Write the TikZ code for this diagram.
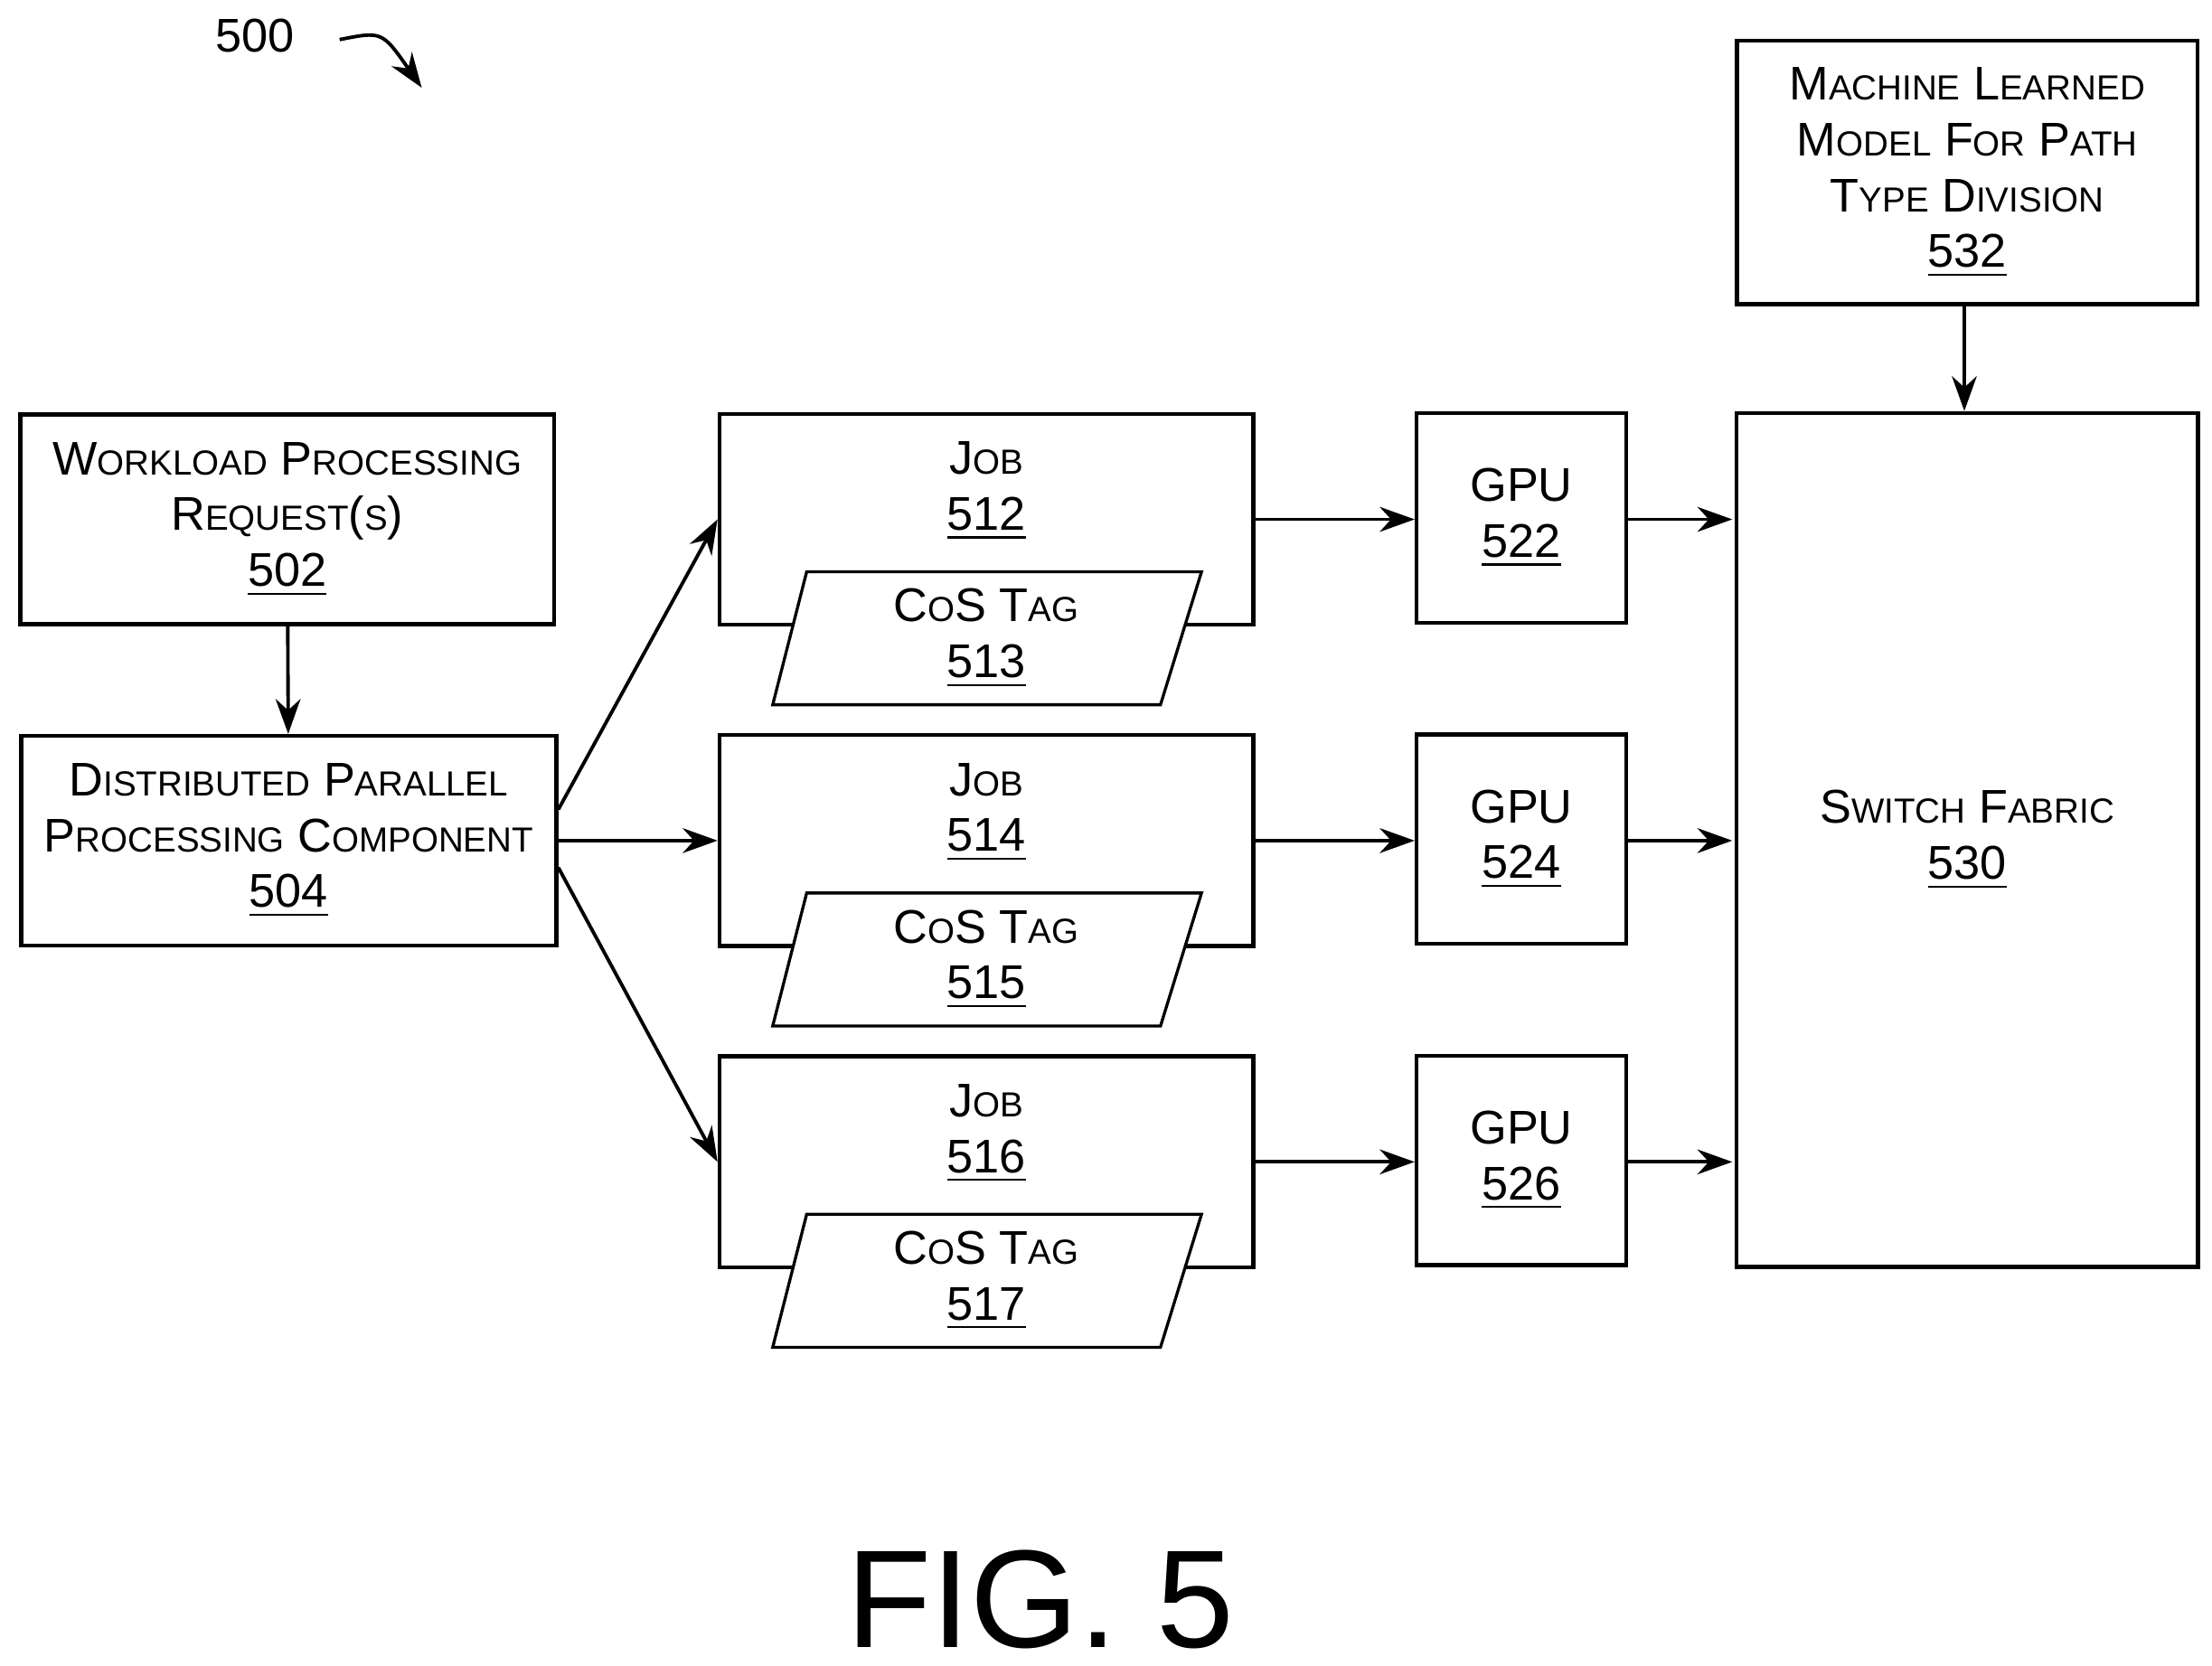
\documentclass[tikz,border=0pt]{standalone}
\usepackage{fontspec}
\setmainfont{Liberation Sans}
\usetikzlibrary{arrows.meta,positioning}
\newcommand{\Sc}[2]{#1{\fontsize{7}{9}\selectfont #2}}
\tikzset{
  box/.style={draw,line width=0.8pt,font=\fontsize{9.5}{11.2}\selectfont,align=center},
  tag/.style={draw,line width=0.6pt,fill=white},
  arr/.style={-{Stealth[length=7pt,width=5pt]},line width=0.7pt}
}
\begin{document}
\begin{tikzpicture}[x=0.01cm,y=-0.01cm]
\useasboundingbox (0,0) rectangle (1563,1177);
% left column
\node [box,minimum width=3.77cm,minimum height=1.48cm] (w) at (203,367) {\Sc{W}{ORKLOAD} \Sc{P}{ROCESSING}\\ \Sc{R}{EQUEST}(\Sc{}{S})\\ \underline{502}};
\node [box,minimum width=3.78cm,minimum height=1.48cm] (d) at (204,594) {\Sc{D}{ISTRIBUTED} \Sc{P}{ARALLEL}\\ \Sc{P}{ROCESSING} \Sc{C}{OMPONENT}\\ \underline{504}};
\draw [arr] (w) -- (d);
% jobs, tags and gpus
\foreach \n/\t/\g/\y in {1/513/522/367, 2/515/524/594, 3/517/526/821}{
  \pgfmathtruncatemacro{\j}{510+2*\n}
  \node [box,minimum width=3.77cm,minimum height=1.49cm] (job\n) at (697,\y) {};
  \node [font=\fontsize{9.5}{11.2}\selectfont,align=center] at (697,\y-20) {\Sc{J}{OB}\\ \underline{\j}};
  \draw [tag] (570,\y+37) -- (849,\y+37) -- (820,\y+131) -- (546,\y+131) -- cycle;
  \node [font=\fontsize{9.5}{11.2}\selectfont,align=center] (tag\n) at (697,\y+84) {\Sc{C}{O}S \Sc{T}{AG}\\ \underline{\t}};
  \node [box,minimum width=1.48cm,minimum height=1.48cm] (gpu\n) at (1075,\y-1) {GPU\\ \underline{\g}};
  \draw [arr] (job\n.east |- 0,\y) -- (gpu\n.west |- 0,\y);
  \draw [arr] (gpu\n.east |- 0,\y) -- (1224,\y);
}
\draw [arr] (d.east) ++(0,-22) -- (job1.west);
\draw [arr] (d.east) -- (job2.west);
\draw [arr] (d.east) ++(0,19) -- (job3.west);
% right column
\node [box,minimum width=3.26cm,minimum height=6.03cm] (sw) at (1390,593.5) {\Sc{S}{WITCH} \Sc{F}{ABRIC}\\ \underline{530}};
\node [box,minimum width=3.25cm,minimum height=1.86cm] (ml) at (1390,122) {\Sc{M}{ACHINE} \Sc{L}{EARNED}\\ \Sc{M}{ODEL} \Sc{F}{OR} \Sc{P}{ATH}\\ \Sc{T}{YPE} \Sc{D}{IVISION}\\ \underline{532}};
\draw [arr] (ml.south -| 1388,0) -- (sw.north -| 1388,0);
% figure labels
\node [font=\fontsize{9.5}{12}\selectfont] (num) at (180,25) {500};
\coordinate (numend) at (298,62);
\draw [arr] (240,28) .. controls (270,22) .. (numend);
\node [font=\fontsize{28}{32}\selectfont] (fig) at (735,1130) {FIG. 5};
\end{tikzpicture}
\end{document}
